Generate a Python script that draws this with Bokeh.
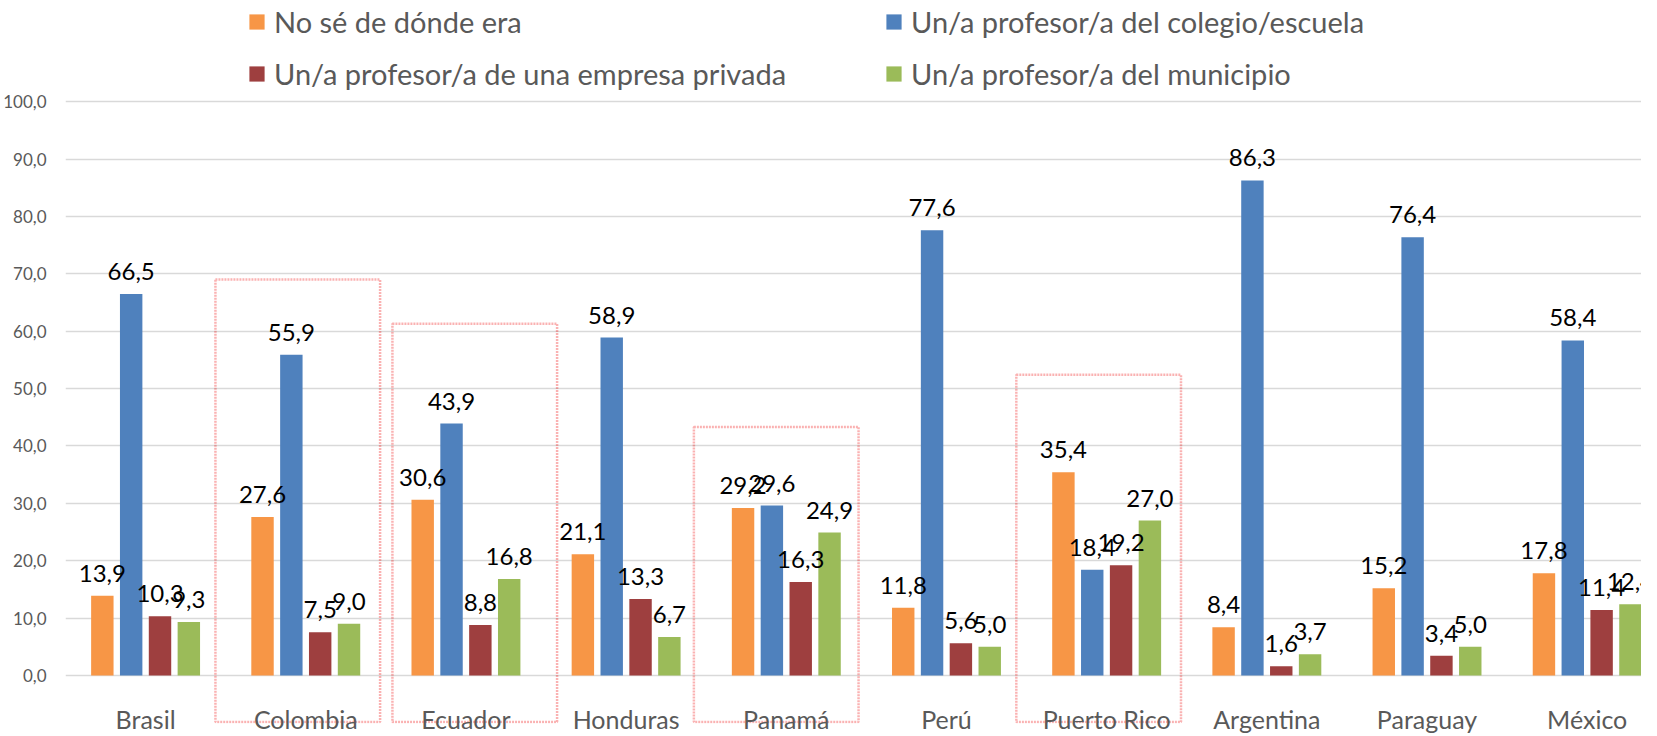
from bokeh.plotting import figure
from bokeh.models import (ColumnDataSource, Range1d, FixedTicker, CustomJSTickFormatter,
                          LabelSet, Legend, LegendItem, BoxAnnotation)
from bokeh.core.properties import value
from bokeh.embed import file_html
from bokeh.resources import INLINE

# ---------------- data ----------------
countries = ["Brasil", "Colombia", "Ecuador", "Honduras", "Panamá", "Perú",
             "Puerto Rico", "Argentina", "Paraguay", "México"]
series_names = ["No sé de dónde era", "Un/a profesor/a del colegio/escuela",
                "Un/a profesor/a de una empresa privada", "Un/a profesor/a del municipio"]
no_se = [13.9, 27.6, 30.6, 21.1, 29.2, 11.8, 35.4, 8.4, 15.2, 17.8]
colegio = [66.5, 55.9, 43.9, 58.9, 29.6, 77.6, 18.4, 86.3, 76.4, 58.4]
empresa = [10.3, 7.5, 8.8, 13.3, 16.3, 5.6, 19.2, 1.6, 3.4, 11.4]
municipio = [9.3, 9.0, 16.8, 6.7, 24.9, 5.0, 27.0, 3.7, 5.0, 12.4]
y_ticks = [0, 10, 20, 30, 40, 50, 60, 70, 80, 90, 100]
# highlighted categories: (name, left offset from category centre, box top value)
highlights = [("Colombia", -0.564, 69.0), ("Ecuador", -0.459, 61.3),
              ("Panamá", -0.577, 43.3), ("Puerto Rico", -0.564, 52.4)]

# ---------------- style ----------------
colors = ["#F79646", "#4F81BD", "#9E3F3F", "#9BBB59"]
offsets = [-0.27, -0.09, 0.09, 0.27]
bar_w = 0.14
FONT = "Lato"
GREY = "#595959"

W, H = 1641, 736
Y_START, Y_END = -8.39, 117.66   # frame spans whole height; grid only 0..100

p = figure(width=W, height=H, output_backend="svg", toolbar_location=None,
           x_range=Range1d(-0.5, 9.339), y_range=Range1d(Y_START, Y_END),
           min_border_left=57, min_border_right=0, min_border_top=0,
           min_border_bottom=10)
p.outline_line_color = None
p.background_fill_color = "white"
p.border_fill_color = "white"

# axes
p.yaxis.ticker = FixedTicker(ticks=y_ticks)
p.yaxis.formatter = CustomJSTickFormatter(code="return tick.toFixed(1).replace('.', ',');")
p.yaxis.axis_line_color = None
p.yaxis.major_tick_line_color = None
p.yaxis.minor_tick_line_color = None
p.yaxis.major_label_text_font = FONT
p.yaxis.major_label_text_font_size = "17px"
p.yaxis.major_label_text_color = GREY
p.yaxis.major_label_standoff = 13

idx = list(range(len(countries)))
p.xaxis.ticker = FixedTicker(ticks=idx)
p.xaxis.major_label_overrides = {i: c for i, c in zip(idx, countries)}
p.xaxis.axis_line_color = None
p.xaxis.major_tick_line_color = None
p.xaxis.minor_tick_line_color = None
p.xaxis.major_tick_out = 0
p.xaxis.major_label_text_font = FONT
p.xaxis.major_label_text_font_size = "25px"
p.xaxis.major_label_text_color = GREY
p.xaxis.major_label_standoff = -20

p.xgrid.grid_line_color = None
p.ygrid.grid_line_color = "#d9d9d9"
p.ygrid.grid_line_width = 1.5

# highlight boxes (dotted red)
for name, loff, top in highlights:
    c = countries.index(name)
    p.add_layout(BoxAnnotation(left=c + loff, right=c + loff + 1.028, top=top,
                               bottom=Y_START + 0.25,
                               fill_alpha=0, line_color="#f00000", line_width=2.5,
                               line_dash="2 1", level="underlay"))

renderers = []
all_series = [no_se, colegio, empresa, municipio]
for s, (vals, col, off) in enumerate(zip(all_series, colors, offsets)):
    src = ColumnDataSource(dict(x=[i + off for i in idx], top=vals,
                                lbl=[f"{v:.1f}".replace(".", ",") for v in vals]))
    r = p.vbar(x="x", top="top", width=bar_w, source=src, fill_color=col, line_color=None)
    renderers.append(r)
    p.add_layout(LabelSet(x="x", y="top", text="lbl", source=src, text_align="center",
                          text_baseline="alphabetic", y_offset=14, text_font=value(FONT),
                          text_font_size=value("24px"), text_color="black"))

def make_legend(items, loc):
    return Legend(items=items, location=loc, orientation="vertical",
                  label_text_font=FONT, label_text_font_size="29px",
                  label_text_color=GREY, glyph_width=19, glyph_height=19,
                  label_standoff=8, label_height=34, spacing=17, padding=0, margin=0,
                  border_line_color=None, background_fill_alpha=0)

lg1 = make_legend([LegendItem(label=series_names[0], renderers=[renderers[0]]),
                   LegendItem(label=series_names[2], renderers=[renderers[2]])], (182, 632))
lg2 = make_legend([LegendItem(label=series_names[1], renderers=[renderers[1]]),
                   LegendItem(label=series_names[3], renderers=[renderers[3]])], (819, 632))
p.add_layout(lg1, "center")
p.add_layout(lg2, "center")

open("out.html", "w").write(file_html(p, INLINE))
